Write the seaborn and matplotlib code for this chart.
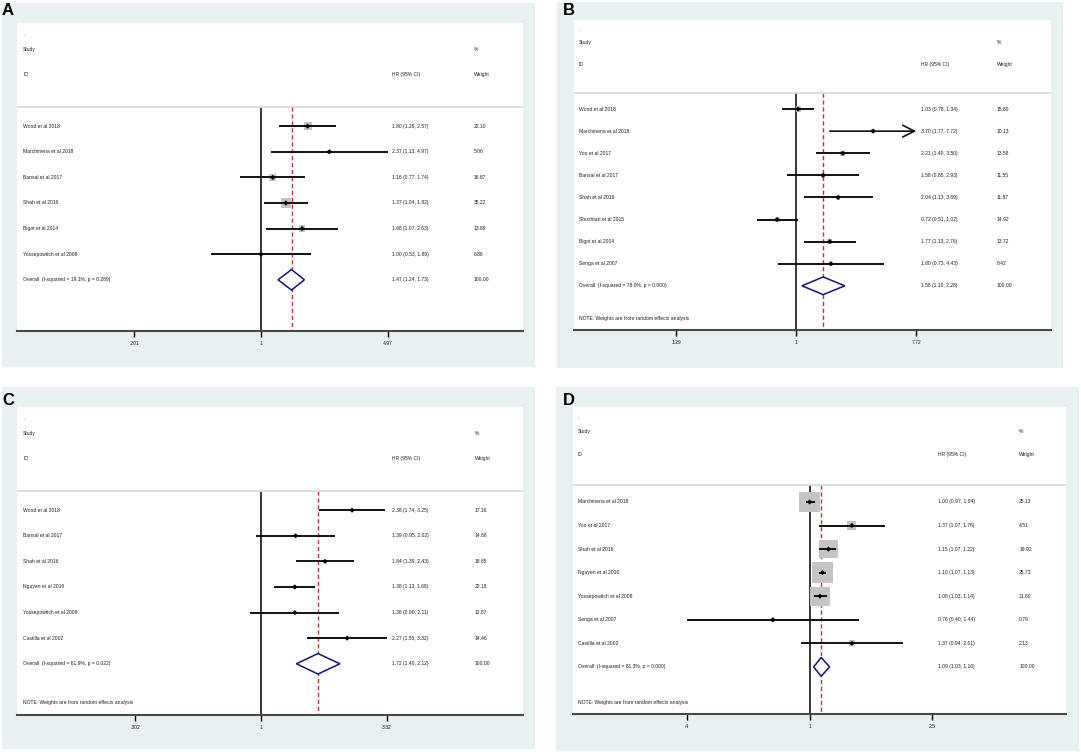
import numpy as np
import pandas as pd
import matplotlib
matplotlib.use("Agg")
import matplotlib.pyplot as plt
import seaborn as sns
from matplotlib.patches import Rectangle, Polygon
from matplotlib.transforms import blended_transform_factory

sns.set_theme(style="white")
plt.rcParams['font.family'] = ['Liberation Sans', 'DejaVu Sans']

# ---------------- DATA ----------------
a_studies = ["Wood et al 2018", "Marchinena et al 2018", "Bansal et al 2017", "Shah et al 2016",
             "Bigot et al 2014", "Yossepowitch et al 2008"]
a_hr = [1.80, 2.37, 1.16, 1.37, 1.68, 1.00]
a_lo = [1.26, 1.13, 0.77, 1.04, 1.07, 0.53]
a_hi = [2.57, 4.97, 1.74, 1.82, 2.63, 1.89]
a_weight = [22.10, 5.06, 16.87, 35.22, 13.89, 6.86]
a_overall_label = "Overall  (I-squared = 19.1%, p = 0.289)"
a_overall = [1.47, 1.24, 1.73]
a_ticks = [0.201, 1, 4.97]
a_ticklabels = [".201", "1", "4.97"]
a_note = None
a_arrow = []

b_studies = ["Wood et al 2018", "Marchinena et al 2018", "Yoo et al 2017", "Bansal et al 2017",
             "Shah et al 2016", "Shoshtari et al 2015", "Bigot et al 2014", "Senga et al 2007"]
b_hr = [1.03, 3.70, 2.21, 1.58, 2.04, 0.72, 1.77, 1.80]
b_lo = [0.78, 1.77, 1.40, 0.85, 1.13, 0.51, 1.13, 0.73]
b_hi = [1.34, 7.72, 3.50, 2.93, 3.69, 1.02, 2.76, 4.43]
b_weight = [15.80, 10.13, 13.58, 11.55, 11.87, 14.92, 13.72, 8.42]
b_overall_label = "Overall  (I-squared = 78.0%, p = 0.000)"
b_overall = [1.58, 1.10, 2.28]
b_ticks = [0.129, 1, 7.72]
b_ticklabels = [".129", "1", "7.72"]
b_note = "NOTE: Weights are from random effects analysis"
b_arrow = ["Marchinena et al 2018"]

c_studies = ["Wood et al 2018", "Bansal et al 2017", "Shah et al 2016", "Nguyen et al 2016",
             "Yossepowitch et al 2008", "Castilla et al 2002"]
c_hr = [2.38, 1.39, 1.84, 1.38, 1.38, 2.27]
c_lo = [1.74, 0.95, 1.39, 1.13, 0.90, 1.55]
c_hi = [3.25, 2.02, 2.43, 1.68, 2.11, 3.32]
c_weight = [17.16, 14.68, 18.65, 22.18, 12.87, 14.46]
c_overall_label = "Overall  (I-squared = 61.9%, p = 0.022)"
c_overall = [1.72, 1.40, 2.12]
c_ticks = [0.302, 1, 3.32]
c_ticklabels = [".302", "1", "3.32"]
c_note = "NOTE: Weights are from random effects analysis"
c_arrow = []

d_studies = ["Marchinena et al 2018", "Yoo et al 2017", "Shah et al 2016", "Nguyen et al 2016",
             "Yossepowitch et al 2008", "Senga et al 2007", "Castilla et al 2002"]
d_hr = [1.00, 1.37, 1.15, 1.10, 1.08, 0.76, 1.37]
d_lo = [0.97, 1.07, 1.07, 1.07, 1.03, 0.40, 0.94]
d_hi = [1.04, 1.76, 1.22, 1.13, 1.14, 1.44, 2.01]
d_weight = [25.13, 4.51, 19.92, 25.73, 21.80, 0.79, 2.13]
d_overall_label = "Overall  (I-squared = 81.3%, p = 0.000)"
d_overall = [1.09, 1.03, 1.16]
d_ticks = [0.4, 1, 2.5]
d_ticklabels = [".4", "1", "2.5"]
d_note = "NOTE: Weights are from random effects analysis"
d_arrow = []

# ---------------- LAYOUT / STYLE ----------------
W, H = 1081, 754
BG = "#e8f0f2"
FS = 3.65
TXT = "#1e1e1e"

layouts = {
    "A": dict(bg=(2, 3, 535, 367), white=(17, 23, 523, 331), lab=(2, 15), lnlim=(-3.081, 3.308),
              cols=(0.012, 0.741, 0.903), box=1.68),
    "B": dict(bg=(557, 2, 1063, 368), white=(574, 20, 1051, 330), lab=(563, 15), lnlim=(-3.79, 4.34),
              cols=(0.0096, 0.727, 0.887), box=1.3),
    "C": dict(bg=(2, 387, 535, 749), white=(17, 407, 523, 715), lab=(2, 405), lnlim=(-2.324, 2.495),
              cols=(0.012, 0.741, 0.905), box=0.7),
    "D": dict(bg=(556, 387, 1079, 751), white=(573, 407, 1066, 714), lab=(563, 405), lnlim=(-1.766, 1.913),
              cols=(0.0101, 0.740, 0.905), box=4.14),
}

panels = {
    "A": (a_studies, a_hr, a_lo, a_hi, a_weight, a_overall_label, a_overall, a_ticks, a_ticklabels, a_note, a_arrow),
    "B": (b_studies, b_hr, b_lo, b_hi, b_weight, b_overall_label, b_overall, b_ticks, b_ticklabels, b_note, b_arrow),
    "C": (c_studies, c_hr, c_lo, c_hi, c_weight, c_overall_label, c_overall, c_ticks, c_ticklabels, c_note, c_arrow),
    "D": (d_studies, d_hr, d_lo, d_hi, d_weight, d_overall_label, d_overall, d_ticks, d_ticklabels, d_note, d_arrow),
}

fig = plt.figure(figsize=(W / 100, H / 100), dpi=100, facecolor="white")


def draw(key):
    lay = layouts[key]
    studies, hr, lo, hi, wt, ov_label, ov, ticks, ticklabels, note, arrow = panels[key]
    x0, y0, x1, y1 = lay["bg"]
    fig.patches.append(Rectangle((x0 / W, 1 - y1 / H), (x1 - x0) / W, (y1 - y0) / H,
                                 transform=fig.transFigure, facecolor=BG, edgecolor="none", zorder=-10))
    fig.text(lay["lab"][0] / W, 1 - lay["lab"][1] / H, key, fontsize=12, fontweight="bold",
             ha="left", va="baseline", color="black", zorder=5)
    wx0, wy0, wx1, wy1 = lay["white"]
    ax = fig.add_axes([wx0 / W, 1 - wy1 / H, (wx1 - wx0) / W, (wy1 - wy0) / H])
    ax.set_zorder(1)
    ax.set_facecolor("white")
    n = len(studies)
    rows = np.arange(n)
    ax.set_xscale("log")

    df = pd.DataFrame({"study": studies, "hr": hr, "lo": lo, "hi": hi, "w": wt, "row": rows})
    # weight boxes
    side_px = lay["box"] * np.sqrt(df["w"].values)
    ax.scatter(df["hr"], df["row"], s=(side_px * 0.72) ** 2, marker="s", color="#c4c4c4",
               edgecolor="none", zorder=2)
    # confidence intervals
    for _, r in df.iterrows():
        if r["study"] in arrow:
            ax.annotate("", xy=(r["hi"], r["row"]), xytext=(r["lo"], r["row"]),
                        arrowprops=dict(arrowstyle="->,head_length=0.7,head_width=0.35",
                                        lw=1.2, color="#111111", shrinkA=0, shrinkB=0), zorder=3)
        else:
            ax.hlines(r["row"], r["lo"], r["hi"], color="#111111", lw=1.4, zorder=3)
    sns.scatterplot(data=df, x="hr", y="row", marker="D", s=7, color="black", edgecolor="none",
                    ax=ax, zorder=4, legend=False)

    sep = -0.74
    ax.vlines(1, sep, n + 2, color="black", lw=1.1, zorder=1)
    ax.vlines(ov[0], sep, n + 2, color="#b83434", lw=1.0, linestyles=(0, (3, 2)), zorder=1)
    ax.axhline(sep, color="#d6dde0", lw=1.3, zorder=1)

    # overall diamond
    dh = 0.4
    diamond = Polygon([(ov[1], n), (ov[0], n - dh), (ov[2], n), (ov[0], n + dh)], closed=True,
                      facecolor="white", edgecolor="#14146e", lw=1.1, zorder=5)
    ax.add_patch(diamond)

    ax.set_xlim(np.exp(lay["lnlim"][0]), np.exp(lay["lnlim"][1]))
    ax.set_ylim(n + 2, -4.03)

    tr = blended_transform_factory(ax.transAxes, ax.transData)
    cn, ch, cw = lay["cols"]
    kw = dict(fontsize=FS, color=TXT, va="center", ha="left", transform=tr)
    ax.text(cn, -3.6, ".", **kw)
    ax.text(cn, -3.0, "Study", **kw)
    ax.text(cn, -2.0, "ID", **kw)
    ax.text(ch, -2.0, "HR (95% CI)", **kw)
    ax.text(cw, -3.0, "%", **kw)
    ax.text(cw, -2.0, "Weight", **kw)
    for _, r in df.iterrows():
        ax.text(cn, r["row"], r["study"], **kw)
        ax.text(ch, r["row"], f"{r['hr']:.2f} ({r['lo']:.2f}, {r['hi']:.2f})", **kw)
        ax.text(cw, r["row"], f"{r['w']:.2f}", **kw)
    ax.text(cn, n, ov_label, **kw)
    ax.text(ch, n, f"{ov[0]:.2f} ({ov[1]:.2f}, {ov[2]:.2f})", **kw)
    ax.text(cw, n, "100.00", **kw)
    if note:
        ax.text(cn, n + 1.5, note, **kw)

    for s in ["top", "left", "right"]:
        ax.spines[s].set_visible(False)
    ax.spines["bottom"].set_color("#4a4a4a")
    ax.spines["bottom"].set_linewidth(1.5)
    ax.set_yticks([])
    ax.xaxis.set_minor_locator(matplotlib.ticker.NullLocator())
    ax.set_xticks(ticks)
    ax.set_xticklabels(ticklabels)
    ax.tick_params(axis="x", which="major", direction="out", length=4.3, width=1.0, color="black",
                   labelsize=FS, labelcolor=TXT, pad=2.9, bottom=True)
    ax.set_xlabel("")
    ax.set_ylabel("")
    ax.grid(False)


for k in ["A", "B", "C", "D"]:
    draw(k)

fig.savefig("out.png", dpi=100, facecolor="white")
